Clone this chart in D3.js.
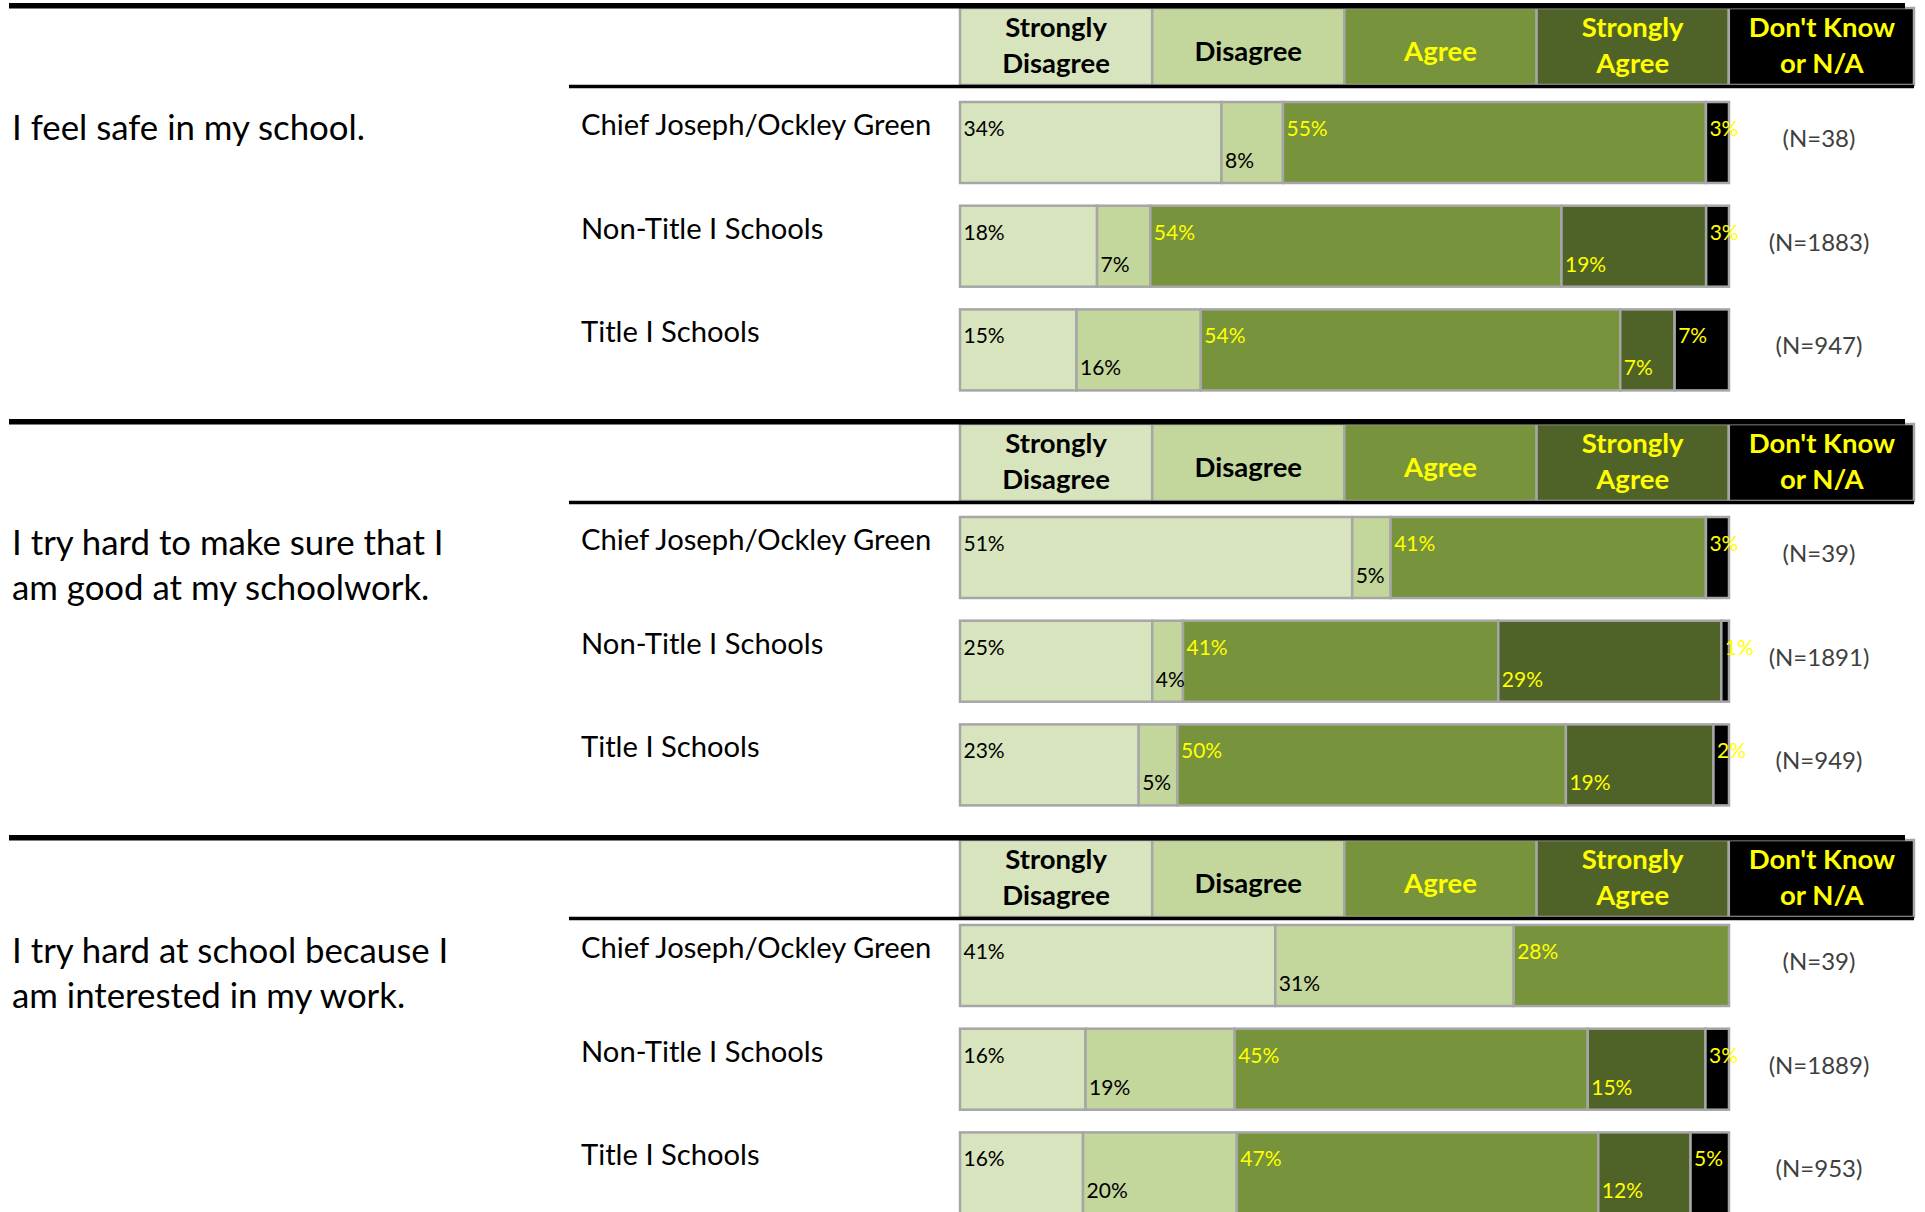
<!DOCTYPE html>
<html><head><meta charset="utf-8">
<script src="https://cdn.jsdelivr.net/npm/d3@7"></script>
<style>body{margin:0;background:#fff;} svg{display:block;}</style>
</head><body>
<script>
// ---------- data ----------
const categories = ["Strongly Disagree","Disagree","Agree","Strongly Agree","Don't Know or N/A"];
const headerLines = [["Strongly","Disagree"],["Disagree"],["Agree"],["Strongly","Agree"],["Don't Know","or N/A"]];
const groups = ["Chief Joseph/Ockley Green","Non-Title I Schools","Title I Schools"];
const questions = [
  ["I feel safe in my school."],
  ["I try hard to make sure that I","am good at my schoolwork."],
  ["I try hard at school because I","am interested in my work."]
];
const q1Values = [[34,8,55,0,3],[18,7,54,19,3],[15,16,54,7,7]];
const q2Values = [[51,5,41,0,3],[25,4,41,29,1],[23,5,50,19,2]];
const q3Values = [[41,31,28,0,0],[16,19,45,15,3],[16,20,47,12,5]];
const q1N = [38,1883,947];
const q2N = [39,1891,949];
const q3N = [39,1889,953];

// ---------- style / layout ----------
const fills = ["#d7e4bd","#c3d69b","#77933c","#4f6228","#000000"];
const textFills = ["#000000","#000000","#ffff00","#ffff00","#ffff00"];
const grey = "#a6a6a6";
const FONT = "Lato, 'Open Sans', sans-serif";
const W = 1925, H = 1212;
const panelTops = [3, 419, 835];
const firstBarOffset = [99, 98, 90];
const rowPitch = 103.7, barH = 81;
const barX0 = 960, barX1 = 1729;

const panels = [
  {q: questions[0], values: q1Values, n: q1N},
  {q: questions[1], values: q2Values, n: q2N},
  {q: questions[2], values: q3Values, n: q3N}
];

const svg = d3.select("body").append("svg").attr("width", W).attr("height", H)
  .style("font-family", FONT);
svg.append("rect").attr("width", W).attr("height", H).attr("fill", "#fff");

const headerX = d3.scaleBand().domain(categories).range([barX0, 1921]);

panels.forEach((p, pi) => {
  const top = panelTops[pi];
  const g = svg.append("g");
  const hy0 = top + 5, hy1 = top + 82;

  // header cells
  const hc = g.selectAll("g.hcell").data(categories).join("g").attr("class","hcell");
  hc.append("rect")
    .attr("x", d => headerX(d))
    .attr("y", hy0)
    .attr("width", (d,i) => i === 4 ? headerX.bandwidth() - 7 : headerX.bandwidth())
    .attr("height", hy1 - hy0)
    .attr("fill", (d,i) => fills[i])
    .attr("stroke", grey).attr("stroke-width", 2.5);
  hc.append("text")
    .attr("text-anchor","middle")
    .attr("font-weight","bold")
    .attr("font-size", 27.5)
    .attr("fill", (d,i) => textFills[i])
    .each(function(d,i){
      const lines = headerLines[i];
      const cx = headerX(d) + headerX.bandwidth()/2 - (i===4 ? 3 : 0);
      const t = d3.select(this);
      const ys = lines.length === 2 ? [top + 34, top + 70] : [top + 58];
      lines.forEach((ln, li) => {
        t.append("tspan").attr("x", cx).attr("y", ys[li]).text(ln);
      });
    });

  // black rules
  g.append("line").attr("x1", 9).attr("x2", 1905).attr("y1", top + 2.8).attr("y2", top + 2.8)
    .attr("stroke", "#000").attr("stroke-width", 5.5);
  g.append("line").attr("x1", 569).attr("x2", 1914).attr("y1", top + 83.5).attr("y2", top + 83.5)
    .attr("stroke", "#000").attr("stroke-width", 3.5);

  // question text
  const barTop0 = top + firstBarOffset[pi];
  const qt = g.append("text").attr("font-size", 34.8).attr("fill", "#000");
  p.q.forEach((ln, li) => qt.append("tspan").attr("x", 12).attr("y", barTop0 + 38 + li*45).text(ln));

  // rows
  p.values.forEach((vals, ri) => {
    const by = barTop0 + ri * rowPitch;
    const x = d3.scaleLinear().domain([0, d3.sum(vals)]).range([barX0, barX1]);
    const cum = d3.cumsum([0, ...vals]);
    const segs = vals.map((v,i) => ({v, i, s: cum[i]})).filter(d => d.v > 0);

    g.append("text").attr("x", 581).attr("y", by + 33).attr("font-size", 29.2).attr("fill", "#000")
      .text(groups[ri]);

    const rg = g.append("g");
    rg.selectAll("rect").data(segs).join("rect")
      .attr("x", d => x(d.s)).attr("y", by)
      .attr("width", d => x(d.s + d.v) - x(d.s)).attr("height", barH)
      .attr("fill", d => fills[d.i])
      .attr("stroke", grey).attr("stroke-width", 2.5);
    rg.selectAll("text").data(segs).join("text")
      .attr("x", d => x(d.s) + 3.5)
      .attr("y", d => by + (d.i % 2 === 1 ? 66 : 34))
      .attr("font-size", 21)
      .attr("fill", d => textFills[d.i])
      .text(d => d.v + "%");

    g.append("text").attr("x", 1819).attr("y", by + 45).attr("text-anchor","middle")
      .attr("font-size", 24).attr("fill", "#404040")
      .text("(N=" + p.n[ri] + ")");
  });
});
</script>
</body></html>
